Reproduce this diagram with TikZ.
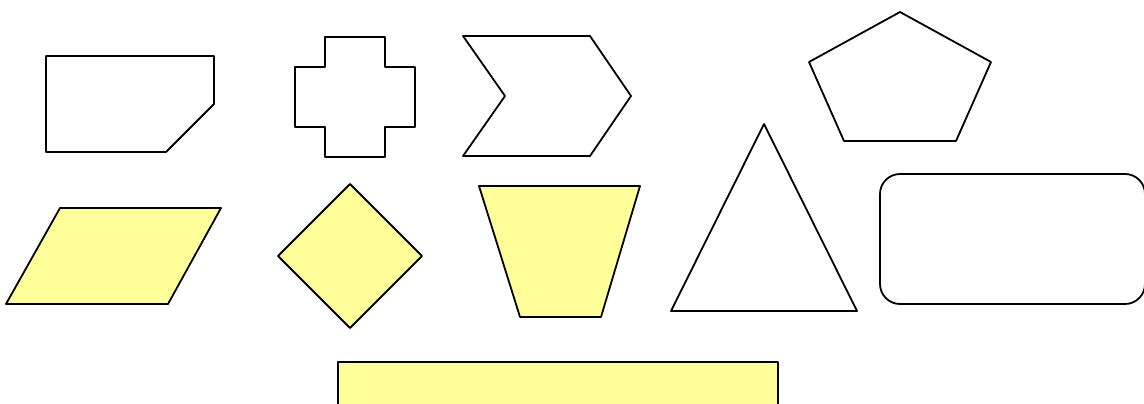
\documentclass[tikz,border=0pt]{standalone}
\definecolor{paleyellow}{HTML}{FFFF99}
\usepackage{tikz}

\begin{document}
\begin{tikzpicture}[
    x=0.75pt, y=-0.75pt,
    outline/.style={draw=black, line width=1.35pt, line join=round},
    yellowshape/.style={outline, fill=paleyellow}
  ]
    \useasboundingbox (0,0) rectangle (1144,403);
    \clip (0,0) rectangle (1144,403);

    % top row
    \draw[outline] (46,56) -- (214,56) -- (214,104) -- (166,152) -- (46,152) -- cycle;
    \draw[outline] (325,37) -- (385,37) -- (385,67) -- (415,67) -- (415,127) -- (385,127)
      -- (385,157) -- (325,157) -- (325,127) -- (295,127) -- (295,67) -- (325,67) -- cycle;
    \draw[outline] (463,36) -- (590,36) -- (631,96) -- (590,156) -- (463,156) -- (505,96) -- cycle;
    \draw[outline] (900,12) -- (991,62) -- (956,141) -- (844,141) -- (809,62) -- cycle;

    % middle row
    \draw[yellowshape] (60,208) -- (221,208) -- (168,304) -- (6,304) -- cycle;
    \draw[yellowshape] (350,184) -- (422,256) -- (350,328) -- (278,256) -- cycle;
    \draw[yellowshape] (479,186) -- (640,186) -- (601,317) -- (520,317) -- cycle;
    \draw[outline] (764,124) -- (857,311) -- (671,311) -- cycle;
    \draw[outline, rounded corners=15pt] (880,174) rectangle (1145,304);

    % bottom
    \draw[yellowshape] (338,362) rectangle (778,410);
  \end{tikzpicture}
\end{document}
